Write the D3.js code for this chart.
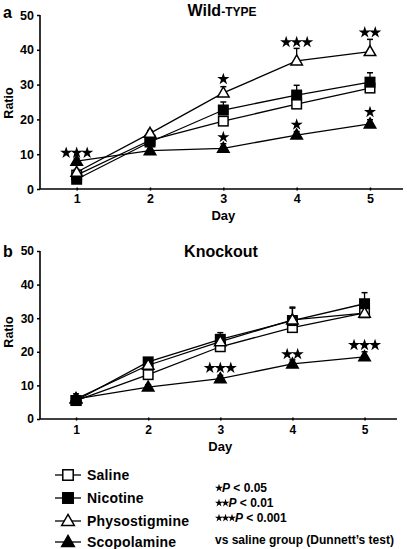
<!DOCTYPE html>
<html><head><meta charset="utf-8">
<script src="https://cdn.jsdelivr.net/npm/d3@7/dist/d3.min.js"></script>
<style>
html,body{margin:0;padding:0;background:#fff;}
svg{display:block;font-family:"Liberation Sans",Arial,sans-serif;font-weight:bold;}
</style></head>
<body>
<svg id="chart" width="407" height="549"></svg>
<script>
// ---------------- DATA ----------------
const days = [1, 2, 3, 4, 5];
const dayTicks = ["1", "2", "3", "4", "5"];
const ratioTicks = [0, 10, 20, 30, 40, 50];
const seriesNames = ["Saline", "Nicotine", "Physostigmine", "Scopolamine"];

// Wild-type panel (a)
const wtSaline = [4.0, 14.0, 19.5, 24.4, 29.0];
const wtNicotine = [2.8, 13.5, 22.7, 27.0, 30.7];
const wtPhyso = [4.8, 16.0, 27.6, 36.8, 39.5];
const wtScop = [8.0, 11.0, 11.7, 15.5, 18.7];
const wtSalineErr = [0.5, 0.8, 1.0, 1.2, 1.0];
const wtNicotineErr = [0.5, 0.8, 2.3, 2.8, 2.7];
const wtPhysoErr = [0.8, 0.8, 1.8, 3.6, 3.5];
const wtScopErr = [0.8, 0.6, 1.3, 1.0, 1.2];
const wtStarDays = [1, 3, 3, 4, 4, 5, 5];
const wtStarCounts = [3, 1, 1, 3, 1, 2, 1];
const wtStarY = [10.4, 31.6, 14.9, 42.2, 18.5, 45.0, 22.1];

// Knockout panel (b)
const koSaline = [5.5, 13.2, 21.5, 27.2, 31.6];
const koNicotine = [5.5, 17.0, 23.7, 29.3, 34.3];
const koPhyso = [6.0, 16.0, 23.0, 29.5, 31.5];
const koScop = [6.0, 9.5, 12.0, 16.4, 18.5];
const koSalineErr = [1.0, 1.0, 1.0, 1.5, 1.0];
const koNicotineErr = [1.0, 1.0, 2.0, 4.0, 3.3];
const koPhysoErr = [1.5, 1.0, 1.5, 3.5, 1.5];
const koScopErr = [1.0, 0.7, 1.0, 1.2, 1.5];
const koStarDays = [3, 4, 5];
const koStarCounts = [3, 2, 3];
const koStarY = [15.2, 19.3, 22.0];

const sigLabels = [" P < 0.05", " P < 0.01", " P < 0.001"];
const sigNote = "vs saline group (Dunnett\u2019s test)";

// ---------------- DRAW ----------------
const svg = d3.select("#chart");
const markerStyle = [
  {shape: "square", fill: "#fff"},
  {shape: "square", fill: "#000"},
  {shape: "triangle", fill: "#fff"},
  {shape: "triangle", fill: "#000"}
];

function drawMarker(g, x, y, st, scale) {
  scale = scale || 1;
  if (st.shape === "square") {
    const s = 9.5 * scale;
    g.append("rect").attr("x", x - s / 2).attr("y", y - s / 2).attr("width", s).attr("height", s)
      .attr("fill", st.fill).attr("stroke", "#000").attr("stroke-width", 1.5);
  } else {
    const s = 11.5 * scale, h = s * 0.87;
    g.append("path")
      .attr("d", `M${x},${y - h * 0.6}L${x + s / 2},${y + h * 0.4}L${x - s / 2},${y + h * 0.4}Z`)
      .attr("fill", st.fill).attr("stroke", "#000").attr("stroke-width", 1.5);
  }
}

const starPath = d3.symbol().type(d3.symbolStar);

function drawStars(g, cx, cy, n, size, gap) {
  for (let i = 0; i < n; i++) {
    const x = cx + (i - (n - 1) / 2) * gap;
    g.append("path").attr("d", starPath.size(size)()).attr("transform", `translate(${x},${cy})`).attr("fill", "#000");
  }
}

function drawPanel(cfg) {
  const x = d3.scaleLinear().domain([0.5, 5.45]).range(cfg.xr);
  const y = d3.scaleLinear().domain([0, 50]).range(cfg.yr);
  const g = svg.append("g");

  // axes
  const ya = d3.axisLeft(y).tickValues(ratioTicks).tickSize(3).tickFormat(d3.format("d"));
  const yg = g.append("g").attr("transform", `translate(${cfg.xr[0]},0)`).call(ya);
  yg.select(".domain").attr("stroke-width", 1.6).attr("d", `M0,${cfg.yr[1]}V${cfg.yr[0]}`);
  yg.selectAll(".tick line").attr("stroke-width", 1.5);
  yg.selectAll("text").attr("font-size", cfg.tickFont).attr("font-weight", "bold").attr("x", -6)
    .attr("font-family", "Liberation Sans, Arial, sans-serif");

  const xa = d3.axisBottom(x).tickValues(days).tickFormat((d, i) => dayTicks[i]).tickSize(3);
  const xg = g.append("g").attr("transform", `translate(0,${cfg.yr[0]})`).call(xa);
  xg.select(".domain").attr("stroke-width", 1.6).attr("d", `M${cfg.xr[0]},0H${cfg.xr[1]}`);
  xg.selectAll(".tick line").attr("stroke-width", 1.5).attr("y1", -1.5).attr("y2", 1.5);
  xg.selectAll("text").attr("font-size", cfg.tickFont).attr("font-weight", "bold").attr("y", cfg.xLabelDy)
    .attr("font-family", "Liberation Sans, Arial, sans-serif");

  // axis titles
  g.append("text").attr("x", x(3)).attr("y", cfg.dayY).attr("text-anchor", "middle")
    .attr("font-size", 13).text("Day");
  g.append("text").attr("transform", `translate(13,${cfg.ratioY}) rotate(-90)`).attr("text-anchor", "middle")
    .attr("font-size", 12.5).text("Ratio");

  // panel letter
  g.append("text").attr("x", 3).attr("y", cfg.letterY).attr("font-size", 16).text(cfg.letter);

  // title
  cfg.title(g);

  const all = cfg.series;
  const line = d3.line().x((d, i) => x(days[i])).y(d => y(d));
  all.forEach(s => {
    g.append("path").datum(s.v).attr("d", line).attr("fill", "none").attr("stroke", "#000").attr("stroke-width", 1.3);
  });
  // error bars
  all.forEach(s => {
    s.v.forEach((v, i) => {
      const cx = x(days[i]), y0 = y(v), y1 = y(v + s.e[i]);
      g.append("line").attr("x1", cx).attr("x2", cx).attr("y1", y0).attr("y2", y1).attr("stroke", "#000").attr("stroke-width", 1.3);
      g.append("line").attr("x1", cx - 3).attr("x2", cx + 3).attr("y1", y1).attr("y2", y1).attr("stroke", "#000").attr("stroke-width", 1.5);
    });
  });
  // markers
  all.forEach((s, k) => {
    s.v.forEach((v, i) => drawMarker(g, x(days[i]), y(v), markerStyle[k]));
  });
  // significance stars
  cfg.starDays.forEach((d, i) => {
    drawStars(g, x(d), y(cfg.starY[i]), cfg.starCounts[i], 46, 10.5);
  });
}

// Panel a
drawPanel({
  xr: [40, 403], yr: [189, 15], tickFont: 12.5, xLabelDy: 5, dayY: 220, ratioY: 103,
  letter: "a", letterY: 18,
  title: g => {
    const t = g.append("text").attr("x", 222).attr("y", 16).attr("text-anchor", "middle");
    t.append("tspan").attr("font-size", 16).text("Wild");
    t.append("tspan").attr("font-size", 12).text("-TYPE");
  },
  series: [
    {v: wtSaline, e: wtSalineErr}, {v: wtNicotine, e: wtNicotineErr},
    {v: wtPhyso, e: wtPhysoErr}, {v: wtScop, e: wtScopErr}
  ],
  starDays: wtStarDays, starCounts: wtStarCounts, starY: wtStarY
});

// Panel b
drawPanel({
  xr: [40, 397], yr: [419, 251], tickFont: 12, xLabelDy: 6, dayY: 451, ratioY: 332,
  letter: "b", letterY: 257,
  title: g => {
    g.append("text").attr("x", 221).attr("y", 257).attr("text-anchor", "middle").attr("font-size", 16).text("Knockout");
  },
  series: [
    {v: koSaline, e: koSalineErr}, {v: koNicotine, e: koNicotineErr},
    {v: koPhyso, e: koPhysoErr}, {v: koScop, e: koScopErr}
  ],
  starDays: koStarDays, starCounts: koStarCounts, starY: koStarY
});

// Legend
const legY = [475, 498, 521, 542];
const lg = svg.append("g");
seriesNames.forEach((name, k) => {
  lg.append("line").attr("x1", 55).attr("x2", 81).attr("y1", legY[k]).attr("y2", legY[k]).attr("stroke", "#000").attr("stroke-width", 1.3);
  drawMarker(lg, 68, legY[k], markerStyle[k], 1.1);
  lg.append("text").attr("x", 87).attr("y", legY[k] + 5).attr("font-size", 14).attr("letter-spacing", 0.2).text(name);
});

const sigY = [492, 507, 522];
sigLabels.forEach((lab, i) => {
  const n = i + 1;
  const starW = 6.5;
  for (let j = 0; j < n; j++) {
    lg.append("path").attr("d", starPath.size(20)()).attr("transform", `translate(${219 + j * starW},${sigY[i] - 4})`).attr("fill", "#000");
  }
  const t = lg.append("text").attr("x", 219 + (n - 1) * starW + 3).attr("y", sigY[i]).attr("font-size", 12);
  t.append("tspan").attr("font-style", "italic").text(lab.slice(0, 2));
  t.append("tspan").text(lab.slice(2));
});
lg.append("text").attr("x", 215).attr("y", 544).attr("font-size", 12).text(sigNote);
</script>
</body></html>
